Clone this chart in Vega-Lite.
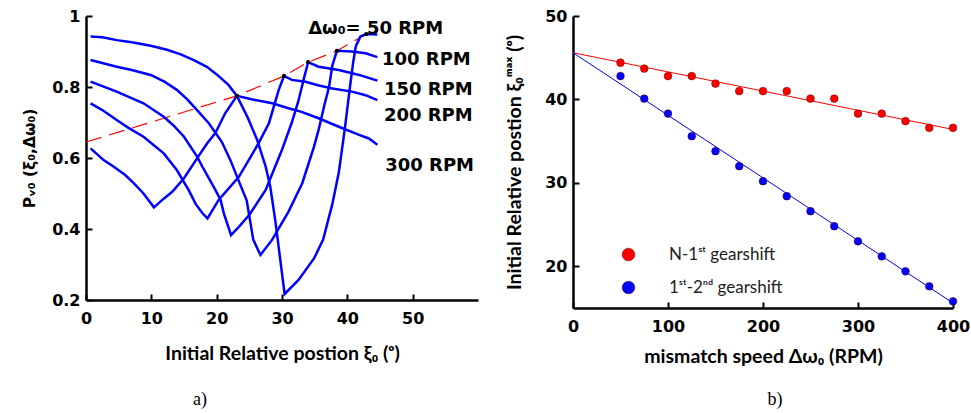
{
  "$schema": "https://vega.github.io/schema/vega-lite/v6.json",
  "background": "white",
  "padding": {"left": 22, "top": 8, "right": 0, "bottom": 0},
  "autosize": {"type": "pad"},
  "spacing": 26,
  "resolve": {"legend": {"color": "independent"}},
  "config": {
    "view": {"stroke": null},
    "axis": {
      "domainColor": "black", "domainWidth": 2.5, "tickColor": "black", "tickWidth": 2,
      "tickSize": -6, "labelPadding": 12, "labelFont": "DejaVu Sans", "labelFontWeight": "bold",
      "labelFontSize": 16, "labelColor": "black", "labelFlush": false, "grid": false, "titleColor": "black",
      "titleFont": "Lato", "titleFontWeight": "bold", "titleFontSize": 19.5
    }
  },
  "datasets": {
    "curves": [
      {"rpm": "50", "i": 1, "xi": 0.7, "p": 0.942}, {"rpm": "50", "i": 2, "xi": 2.5, "p": 0.94}, {"rpm": "50", "i": 3, "xi": 4.7, "p": 0.932}, {"rpm": "50", "i": 4, "xi": 7, "p": 0.926}, {"rpm": "50", "i": 5, "xi": 9.9, "p": 0.916}, {"rpm": "50", "i": 6, "xi": 12.4, "p": 0.905}, {"rpm": "50", "i": 7, "xi": 14.5, "p": 0.892}, {"rpm": "50", "i": 8, "xi": 16.5, "p": 0.876}, {"rpm": "50", "i": 9, "xi": 18.5, "p": 0.857}, {"rpm": "50", "i": 10, "xi": 20.1, "p": 0.834}, {"rpm": "50", "i": 11, "xi": 21.8, "p": 0.806}, {"rpm": "50", "i": 12, "xi": 23.1, "p": 0.775}, {"rpm": "50", "i": 13, "xi": 24.7, "p": 0.716}, {"rpm": "50", "i": 14, "xi": 26.2, "p": 0.651}, {"rpm": "50", "i": 15, "xi": 27.5, "p": 0.576}, {"rpm": "50", "i": 16, "xi": 28.2, "p": 0.52}, {"rpm": "50", "i": 17, "xi": 29.0, "p": 0.42}, {"rpm": "50", "i": 18, "xi": 30.4, "p": 0.217}, {"rpm": "50", "i": 19, "xi": 32.5, "p": 0.256}, {"rpm": "50", "i": 20, "xi": 34.9, "p": 0.317}, {"rpm": "50", "i": 21, "xi": 36.3, "p": 0.37}, {"rpm": "50", "i": 22, "xi": 37.7, "p": 0.47}, {"rpm": "50", "i": 23, "xi": 38.7, "p": 0.56}, {"rpm": "50", "i": 24, "xi": 39.6, "p": 0.68}, {"rpm": "50", "i": 25, "xi": 40.4, "p": 0.8}, {"rpm": "50", "i": 26, "xi": 40.9, "p": 0.87}, {"rpm": "50", "i": 27, "xi": 41.3, "p": 0.915}, {"rpm": "50", "i": 28, "xi": 42.0, "p": 0.942}, {"rpm": "50", "i": 29, "xi": 42.9, "p": 0.949}, {"rpm": "50", "i": 30, "xi": 44.6, "p": 0.948},
      {"rpm": "100", "i": 1, "xi": 0.7, "p": 0.876}, {"rpm": "100", "i": 2, "xi": 4.7, "p": 0.857}, {"rpm": "100", "i": 3, "xi": 7, "p": 0.848}, {"rpm": "100", "i": 4, "xi": 9.9, "p": 0.834}, {"rpm": "100", "i": 5, "xi": 12, "p": 0.815}, {"rpm": "100", "i": 6, "xi": 13.9, "p": 0.792}, {"rpm": "100", "i": 7, "xi": 15.5, "p": 0.765}, {"rpm": "100", "i": 8, "xi": 17.0, "p": 0.735}, {"rpm": "100", "i": 9, "xi": 18.8, "p": 0.698}, {"rpm": "100", "i": 10, "xi": 20.8, "p": 0.645}, {"rpm": "100", "i": 11, "xi": 22.1, "p": 0.594}, {"rpm": "100", "i": 12, "xi": 23.5, "p": 0.53}, {"rpm": "100", "i": 13, "xi": 24.6, "p": 0.48}, {"rpm": "100", "i": 14, "xi": 25.6, "p": 0.37}, {"rpm": "100", "i": 15, "xi": 26.7, "p": 0.327}, {"rpm": "100", "i": 16, "xi": 28.5, "p": 0.37}, {"rpm": "100", "i": 17, "xi": 31.0, "p": 0.449}, {"rpm": "100", "i": 18, "xi": 33.1, "p": 0.529}, {"rpm": "100", "i": 19, "xi": 34.9, "p": 0.632}, {"rpm": "100", "i": 20, "xi": 35.6, "p": 0.679}, {"rpm": "100", "i": 21, "xi": 36.5, "p": 0.75}, {"rpm": "100", "i": 22, "xi": 37.2, "p": 0.8}, {"rpm": "100", "i": 23, "xi": 37.7, "p": 0.86}, {"rpm": "100", "i": 24, "xi": 38.4, "p": 0.902}, {"rpm": "100", "i": 25, "xi": 40.7, "p": 0.9}, {"rpm": "100", "i": 26, "xi": 42.8, "p": 0.895}, {"rpm": "100", "i": 27, "xi": 44.6, "p": 0.884},
      {"rpm": "150", "i": 1, "xi": 0.7, "p": 0.815}, {"rpm": "150", "i": 2, "xi": 4.7, "p": 0.787}, {"rpm": "150", "i": 3, "xi": 8.8, "p": 0.754}, {"rpm": "150", "i": 4, "xi": 11.9, "p": 0.716}, {"rpm": "150", "i": 5, "xi": 13.5, "p": 0.69}, {"rpm": "150", "i": 6, "xi": 15.0, "p": 0.66}, {"rpm": "150", "i": 7, "xi": 17.0, "p": 0.604}, {"rpm": "150", "i": 8, "xi": 17.8, "p": 0.576}, {"rpm": "150", "i": 9, "xi": 19.8, "p": 0.51}, {"rpm": "150", "i": 10, "xi": 20.6, "p": 0.482}, {"rpm": "150", "i": 11, "xi": 21.1, "p": 0.444}, {"rpm": "150", "i": 12, "xi": 22.2, "p": 0.383}, {"rpm": "150", "i": 13, "xi": 23.4, "p": 0.406}, {"rpm": "150", "i": 14, "xi": 25, "p": 0.44}, {"rpm": "150", "i": 15, "xi": 27.5, "p": 0.51}, {"rpm": "150", "i": 16, "xi": 30.0, "p": 0.623}, {"rpm": "150", "i": 17, "xi": 31.5, "p": 0.7}, {"rpm": "150", "i": 18, "xi": 32.5, "p": 0.76}, {"rpm": "150", "i": 19, "xi": 33.3, "p": 0.82}, {"rpm": "150", "i": 20, "xi": 34.0, "p": 0.87}, {"rpm": "150", "i": 21, "xi": 35.6, "p": 0.857}, {"rpm": "150", "i": 22, "xi": 38.7, "p": 0.848}, {"rpm": "150", "i": 23, "xi": 41.8, "p": 0.834}, {"rpm": "150", "i": 24, "xi": 44.6, "p": 0.818},
      {"rpm": "200", "i": 1, "xi": 0.7, "p": 0.754}, {"rpm": "200", "i": 2, "xi": 2.5, "p": 0.735}, {"rpm": "200", "i": 3, "xi": 4.7, "p": 0.707}, {"rpm": "200", "i": 4, "xi": 6.5, "p": 0.685}, {"rpm": "200", "i": 5, "xi": 8.8, "p": 0.66}, {"rpm": "200", "i": 6, "xi": 11.9, "p": 0.613}, {"rpm": "200", "i": 7, "xi": 13.9, "p": 0.566}, {"rpm": "200", "i": 8, "xi": 15.7, "p": 0.51}, {"rpm": "200", "i": 9, "xi": 16.8, "p": 0.47}, {"rpm": "200", "i": 10, "xi": 17.8, "p": 0.445}, {"rpm": "200", "i": 11, "xi": 18.6, "p": 0.43}, {"rpm": "200", "i": 12, "xi": 20.3, "p": 0.482}, {"rpm": "200", "i": 13, "xi": 23.4, "p": 0.547}, {"rpm": "200", "i": 14, "xi": 26.4, "p": 0.641}, {"rpm": "200", "i": 15, "xi": 28.0, "p": 0.698}, {"rpm": "200", "i": 16, "xi": 29.5, "p": 0.792}, {"rpm": "200", "i": 17, "xi": 30.3, "p": 0.831}, {"rpm": "200", "i": 18, "xi": 31.5, "p": 0.82}, {"rpm": "200", "i": 19, "xi": 33.6, "p": 0.815}, {"rpm": "200", "i": 20, "xi": 35.5, "p": 0.805}, {"rpm": "200", "i": 21, "xi": 37.7, "p": 0.796}, {"rpm": "200", "i": 22, "xi": 40.7, "p": 0.787}, {"rpm": "200", "i": 23, "xi": 42.8, "p": 0.777}, {"rpm": "200", "i": 24, "xi": 44.6, "p": 0.763},
      {"rpm": "300", "i": 1, "xi": 0.7, "p": 0.627}, {"rpm": "300", "i": 2, "xi": 2.7, "p": 0.594}, {"rpm": "300", "i": 3, "xi": 4.2, "p": 0.576}, {"rpm": "300", "i": 4, "xi": 6.0, "p": 0.552}, {"rpm": "300", "i": 5, "xi": 7.3, "p": 0.529}, {"rpm": "300", "i": 6, "xi": 8.8, "p": 0.5}, {"rpm": "300", "i": 7, "xi": 10.4, "p": 0.461}, {"rpm": "300", "i": 8, "xi": 11.8, "p": 0.484}, {"rpm": "300", "i": 9, "xi": 13.2, "p": 0.505}, {"rpm": "300", "i": 10, "xi": 15.0, "p": 0.543}, {"rpm": "300", "i": 11, "xi": 17.0, "p": 0.599}, {"rpm": "300", "i": 12, "xi": 18.5, "p": 0.64}, {"rpm": "300", "i": 13, "xi": 19.8, "p": 0.67}, {"rpm": "300", "i": 14, "xi": 21.3, "p": 0.726}, {"rpm": "300", "i": 15, "xi": 23.1, "p": 0.775}, {"rpm": "300", "i": 16, "xi": 25.5, "p": 0.765}, {"rpm": "300", "i": 17, "xi": 28.5, "p": 0.754}, {"rpm": "300", "i": 18, "xi": 31.0, "p": 0.74}, {"rpm": "300", "i": 19, "xi": 33, "p": 0.73}, {"rpm": "300", "i": 20, "xi": 35.6, "p": 0.712}, {"rpm": "300", "i": 21, "xi": 38.7, "p": 0.688}, {"rpm": "300", "i": 22, "xi": 41.8, "p": 0.665}, {"rpm": "300", "i": 23, "xi": 43.3, "p": 0.655}, {"rpm": "300", "i": 24, "xi": 44.6, "p": 0.637}
    ],
    "envelope": [
      {"i": 1, "xi": 0, "p": 0.645}, {"i": 2, "xi": 23.1, "p": 0.775}, {"i": 3, "xi": 30.3, "p": 0.831}, {"i": 4, "xi": 34.0, "p": 0.87}, {"i": 5, "xi": 38.4, "p": 0.902}, {"i": 6, "xi": 42.9, "p": 0.949}
    ],
    "peaks": [
      {"xi": 23.1, "p": 0.775}, {"xi": 30.3, "p": 0.831}, {"xi": 34.0, "p": 0.87}, {"xi": 38.4, "p": 0.902}, {"xi": 42.9, "p": 0.949}
    ],
    "labels": [
      {"xi": 34.0, "p": 0.963, "label": "Δω₀= 50 RPM"},
      {"xi": 45.3, "p": 0.876, "label": "100 RPM"},
      {"xi": 45.6, "p": 0.791, "label": "150 RPM"},
      {"xi": 45.6, "p": 0.719, "label": "200 RPM"},
      {"xi": 45.8, "p": 0.578, "label": "300 RPM"}
    ],
    "points": [
      {"series": "N-1ˢᵗ gearshift", "dw": 50, "xm": 44.4}, {"series": "N-1ˢᵗ gearshift", "dw": 75, "xm": 43.7}, {"series": "N-1ˢᵗ gearshift", "dw": 100, "xm": 42.8}, {"series": "N-1ˢᵗ gearshift", "dw": 125, "xm": 42.8}, {"series": "N-1ˢᵗ gearshift", "dw": 150, "xm": 41.9}, {"series": "N-1ˢᵗ gearshift", "dw": 175, "xm": 41.0}, {"series": "N-1ˢᵗ gearshift", "dw": 200, "xm": 41.0}, {"series": "N-1ˢᵗ gearshift", "dw": 225, "xm": 41.0}, {"series": "N-1ˢᵗ gearshift", "dw": 250, "xm": 40.1}, {"series": "N-1ˢᵗ gearshift", "dw": 275, "xm": 40.1}, {"series": "N-1ˢᵗ gearshift", "dw": 300, "xm": 38.3}, {"series": "N-1ˢᵗ gearshift", "dw": 325, "xm": 38.3}, {"series": "N-1ˢᵗ gearshift", "dw": 350, "xm": 37.4}, {"series": "N-1ˢᵗ gearshift", "dw": 375, "xm": 36.6}, {"series": "N-1ˢᵗ gearshift", "dw": 400, "xm": 36.6},
      {"series": "1ˢᵗ-2ⁿᵈ gearshift", "dw": 50, "xm": 42.8}, {"series": "1ˢᵗ-2ⁿᵈ gearshift", "dw": 75, "xm": 40.1}, {"series": "1ˢᵗ-2ⁿᵈ gearshift", "dw": 100, "xm": 38.3}, {"series": "1ˢᵗ-2ⁿᵈ gearshift", "dw": 125, "xm": 35.6}, {"series": "1ˢᵗ-2ⁿᵈ gearshift", "dw": 150, "xm": 33.8}, {"series": "1ˢᵗ-2ⁿᵈ gearshift", "dw": 175, "xm": 32.0}, {"series": "1ˢᵗ-2ⁿᵈ gearshift", "dw": 200, "xm": 30.2}, {"series": "1ˢᵗ-2ⁿᵈ gearshift", "dw": 225, "xm": 28.4}, {"series": "1ˢᵗ-2ⁿᵈ gearshift", "dw": 250, "xm": 26.6}, {"series": "1ˢᵗ-2ⁿᵈ gearshift", "dw": 275, "xm": 24.8}, {"series": "1ˢᵗ-2ⁿᵈ gearshift", "dw": 300, "xm": 23.0}, {"series": "1ˢᵗ-2ⁿᵈ gearshift", "dw": 325, "xm": 21.2}, {"series": "1ˢᵗ-2ⁿᵈ gearshift", "dw": 350, "xm": 19.4}, {"series": "1ˢᵗ-2ⁿᵈ gearshift", "dw": 375, "xm": 17.6}, {"series": "1ˢᵗ-2ⁿᵈ gearshift", "dw": 400, "xm": 15.8}
    ],
    "fits": [
      {"fit": "red", "dw": 0, "xm": 45.6}, {"fit": "red", "dw": 400, "xm": 36.4},
      {"fit": "blue", "dw": 0, "xm": 45.6}, {"fit": "blue", "dw": 400, "xm": 15.6}
    ]
  },
  "hconcat": [
    {
      "width": 392,
      "height": 284,
      "title": {"text": "a)", "orient": "bottom", "anchor": "middle", "dx": -82, "offset": 28, "font": "Liberation Serif", "fontSize": 18, "fontWeight": "normal", "color": "black"},
      "layer": [
        {
          "data": {"name": "envelope"},
          "mark": {"type": "line", "color": "#ff0000", "strokeWidth": 1.2, "strokeDash": [16, 8]},
          "encoding": {
            "x": {"field": "xi", "type": "quantitative", "scale": {"domain": [0, 60], "nice": false},
                  "axis": {"values": [0, 10, 20, 30, 40, 50], "title": "Initial Relative postion ξ₀ (ᵒ)", "labelPadding": 16, "titlePadding": 18}},
            "y": {"field": "p", "type": "quantitative", "scale": {"domain": [0.2, 1], "nice": false, "zero": false},
                  "axis": {"values": [0.2, 0.4, 0.6, 0.8, 1], "format": "~g", "title": "Pᵥ₀ (ξ₀,Δω₀)", "titleFont": "DejaVu Sans", "titleFontSize": 15.5, "titlePadding": 14}},
            "order": {"field": "i", "type": "quantitative"}
          }
        },
        {
          "data": {"name": "curves"},
          "mark": {"type": "line", "color": "#0000ff", "strokeWidth": 2.5},
          "encoding": {
            "x": {"field": "xi", "type": "quantitative"},
            "y": {"field": "p", "type": "quantitative"},
            "detail": {"field": "rpm", "type": "nominal"},
            "order": {"field": "i", "type": "quantitative"}
          }
        },
        {
          "data": {"name": "peaks"},
          "mark": {"type": "circle", "color": "black", "size": 18, "opacity": 1},
          "encoding": {
            "x": {"field": "xi", "type": "quantitative"},
            "y": {"field": "p", "type": "quantitative"}
          }
        },
        {
          "data": {"name": "labels"},
          "mark": {"type": "text", "align": "left", "baseline": "middle", "font": "DejaVu Sans", "fontWeight": "bold", "fontSize": 18, "color": "black"},
          "encoding": {
            "x": {"field": "xi", "type": "quantitative"},
            "y": {"field": "p", "type": "quantitative"},
            "text": {"field": "label"}
          }
        }
      ]
    },
    {
      "width": 380,
      "height": 292,
      "title": {"text": "b)", "orient": "bottom", "anchor": "middle", "dx": 12, "offset": 25, "font": "Liberation Serif", "fontSize": 18, "fontWeight": "normal", "color": "black"},
      "layer": [
        {
          "data": {"name": "fits"},
          "transform": [{"filter": "datum.fit == 'red'"}],
          "mark": {"type": "line", "color": "#ff0000", "strokeWidth": 1},
          "encoding": {
            "x": {"field": "dw", "type": "quantitative", "scale": {"domain": [0, 400], "nice": false},
                  "axis": {"values": [0, 100, 200, 300, 400], "title": "mismatch speed Δω₀ (RPM)", "labelPadding": 16, "titlePadding": 13}},
            "y": {"field": "xm", "type": "quantitative", "scale": {"domain": [15, 50], "nice": false, "zero": false},
                  "axis": {"values": [20, 30, 40, 50], "title": "Initial Relative postion ξ₀ᵐᵃˣ (ᵒ)", "titlePadding": 20}}
          }
        },
        {
          "data": {"name": "fits"},
          "transform": [{"filter": "datum.fit == 'blue'"}],
          "mark": {"type": "line", "color": "#0000ff", "strokeWidth": 1},
          "encoding": {
            "x": {"field": "dw", "type": "quantitative"},
            "y": {"field": "xm", "type": "quantitative"}
          }
        },
        {
          "data": {"name": "points"},
          "mark": {"type": "circle", "size": 60, "opacity": 1, "stroke": "#550000", "strokeWidth": 0.5},
          "encoding": {
            "x": {"field": "dw", "type": "quantitative"},
            "y": {"field": "xm", "type": "quantitative"},
            "color": {"field": "series", "type": "nominal",
                      "scale": {"domain": ["N-1ˢᵗ gearshift", "1ˢᵗ-2ⁿᵈ gearshift"], "range": ["#ff0000", "#0000ff"]},
                      "legend": {"orient": "none", "legendX": 47, "legendY": 230, "title": null, "symbolSize": 160, "symbolType": "circle",
                                 "labelFont": "Lato", "labelFontSize": 17, "labelFontWeight": "normal", "labelColor": "#222",
                                 "labelOffset": 32, "rowPadding": 15, "symbolStrokeWidth": 0.5, "symbolStrokeColor": "#550000"}}
          }
        }
      ]
    }
  ]
}
